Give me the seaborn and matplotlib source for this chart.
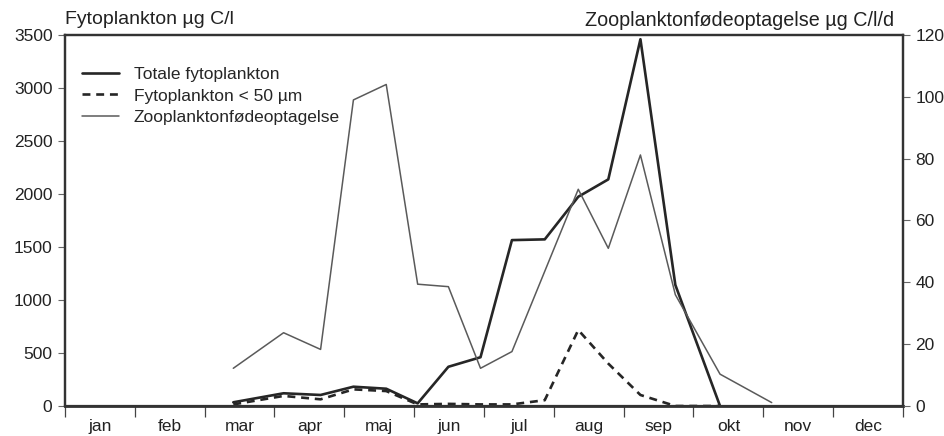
import matplotlib
matplotlib.use("Agg")
import matplotlib.pyplot as plt
import seaborn as sns
import pandas as pd

# Sampling dates expressed as month position (0 = 1 Jan, 12 = 31 Dec)
sample_month = [2.41, 3.13, 3.66, 4.13, 4.60, 5.05, 5.49, 5.95, 6.40, 6.87,
                7.35, 7.78, 8.24, 8.74, 9.38]
# Phytoplankton biomass, µg C/l
total_phyto = [35, 120, 104, 182, 163, 25, 370, 460, 1565, 1572,
               1974, 2138, 3460, 1142, 0]
small_phyto = [15, 95, 63, 157, 141, 15, 20, 15, 15, 55,
               717, 400, 104, 0, 0]

# Zooplankton food uptake, µg C/l/d
zoo_month = [2.41, 3.13, 3.66, 4.13, 4.60, 5.05, 5.49, 5.95, 6.40,
             7.35, 7.78, 8.24, 8.74, 9.38, 10.12]
zoo_uptake = [12.2, 23.7, 18.3, 99, 104, 39.4, 38.6, 12.2, 17.6,
              70.1, 51, 81.2, 36, 10.3, 1.1]

months = ["jan", "feb", "mar", "apr", "maj", "jun",
          "jul", "aug", "sep", "okt", "nov", "dec"]

sns.set_theme(style="white")
plt.rcParams["font.family"] = ["Liberation Sans", "DejaVu Sans"]
plt.rcParams["font.size"] = 12.5

phyto = pd.DataFrame({"month": sample_month, "total": total_phyto, "small": small_phyto})
zoo = pd.DataFrame({"month": zoo_month, "uptake": zoo_uptake})

fig = plt.figure(figsize=(9.45, 4.36), dpi=100)
ax = fig.add_axes([65 / 945, 30 / 436, 838 / 945, 371 / 436])
ax2 = ax.twinx()

dark = "#262626"
sns.lineplot(data=phyto, x="month", y="total", ax=ax, sort=False,
             color=dark, lw=1.9, label="Totale fytoplankton")
sns.lineplot(data=phyto, x="month", y="small", ax=ax, sort=False,
             color=dark, lw=1.9, label="Fytoplankton < 50 µm", dashes=False)
ax.lines[-1].set_dashes([3, 2.2])
sns.lineplot(data=zoo, x="month", y="uptake", ax=ax2, sort=False,
             color="#5a5a5a", lw=1.1, label="Zooplanktonfødeoptagelse")

ax.set_xlim(0, 12)
ax.set_ylim(0, 3500)
ax2.set_ylim(0, 120)
ax.set_yticks(range(0, 3501, 500))
ax2.set_yticks(range(0, 121, 20))

ax.set_xticks(range(0, 13))
ax.set_xticklabels([])
ax.set_xticks([i + 0.5 for i in range(12)], minor=True)
ax.set_xticklabels(months, minor=True)
ax.tick_params(axis="x", which="major", direction="out", length=8,
               width=0.9, color="#444444", bottom=True)
ax.tick_params(axis="x", which="minor", length=0, pad=9, labelsize=12.5,
               colors="#222222")
ax.tick_params(axis="y", direction="out", length=5, width=0.8,
               color="#666666", left=True, pad=4, labelsize=12.5, labelcolor="#222222")
ax2.tick_params(axis="y", direction="out", length=5, width=0.8,
                color="#666666", right=True, pad=4, labelsize=12.5, labelcolor="#222222")

ax.set_xlabel("")
ax.set_ylabel("")
ax2.set_xlabel("")
ax2.set_ylabel("")

for a in (ax, ax2):
    for side in ("left", "right", "top", "bottom"):
        a.spines[side].set_color("#333333")
        a.spines[side].set_linewidth(1.6)
ax.spines["bottom"].set_linewidth(2.0)

fig.text(65 / 945, 1 - 20 / 436, "Fytoplankton µg C/l", ha="left", va="center",
         fontsize=14, color="#222222")
fig.text(894 / 945, 1 - 20 / 436, "Zooplanktonfødeoptagelse µg C/l/d", ha="right",
         va="center", fontsize=14.2, color="#222222")

h1, l1 = ax.get_legend_handles_labels()
h2, l2 = ax2.get_legend_handles_labels()
if ax2.get_legend():
    ax2.get_legend().remove()
if ax.get_legend():
    ax.get_legend().remove()
ax2.legend(h1 + h2, l1 + l2, loc="upper left", bbox_to_anchor=(0.002, 0.955),
           frameon=False, handlelength=2.1, handletextpad=0.85,
           labelspacing=0.34, fontsize=12.5)

fig.savefig("out.png", dpi=100, facecolor="white")
